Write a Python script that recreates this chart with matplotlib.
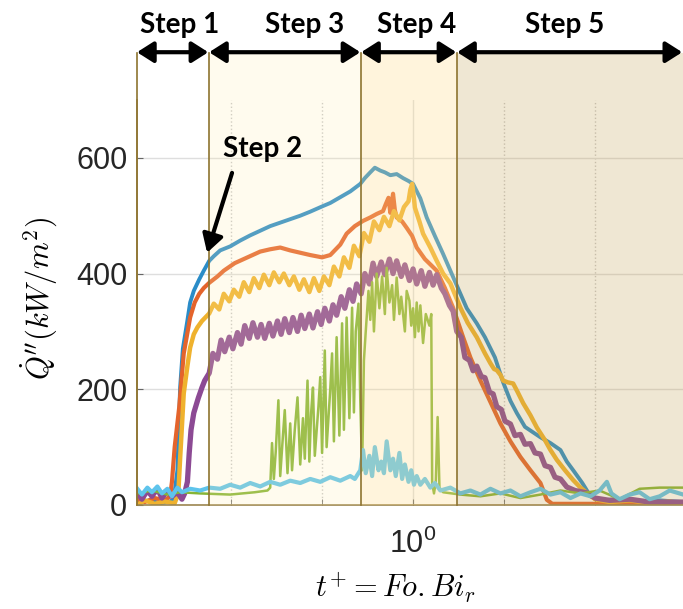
# Heat flux vs dimensionless time, with step regions
import numpy as np
import matplotlib
matplotlib.use("Agg")
import matplotlib.pyplot as plt
from matplotlib.ticker import FixedLocator, NullFormatter

plt.rcParams['font.family'] = ['Liberation Sans', 'DejaVu Sans']
plt.rcParams['mathtext.fontset'] = 'cm'

# ----- data: (log10 t+, Q'' in kW/m2) -----
blue = [(-0.303, 5), (-0.289, 8), (-0.278, 3), (-0.267, 6), (-0.263, 10), (-0.259, 60),
        (-0.256, 203), (-0.253, 270), (-0.248, 319), (-0.245, 350), (-0.241, 370),
        (-0.235, 390), (-0.230, 405), (-0.224, 422), (-0.219, 430), (-0.212, 440),
        (-0.201, 447), (-0.190, 457), (-0.179, 466), (-0.168, 474), (-0.157, 482),
        (-0.146, 488), (-0.135, 494), (-0.124, 500), (-0.113, 507), (-0.100, 516),
        (-0.091, 522), (-0.080, 532), (-0.069, 542), (-0.058, 555), (-0.053, 565),
        (-0.047, 575), (-0.042, 583), (-0.036, 578), (-0.031, 575), (-0.025, 570),
        (-0.018, 572), (-0.011, 565), (-0.005, 560), (0.000, 555), (0.008, 530),
        (0.015, 497), (0.024, 465), (0.033, 434), (0.041, 405), (0.049, 376),
        (0.059, 340), (0.070, 314), (0.079, 290), (0.090, 255), (0.099, 212),
        (0.107, 180), (0.114, 159), (0.123, 135), (0.140, 117), (0.151, 107),
        (0.162, 95), (0.169, 75), (0.176, 60), (0.186, 38), (0.195, 15), (0.205, 8),
        (0.227, 10), (0.249, 5), (0.271, 8), (0.297, 5)]

orange = [(-0.303, 10), (-0.295, 5), (-0.284, 12), (-0.273, 8), (-0.267, 15), (-0.265, 40),
          (-0.262, 100), (-0.257, 169), (-0.252, 262), (-0.245, 324), (-0.240, 350),
          (-0.235, 365), (-0.230, 375), (-0.224, 384), (-0.215, 395), (-0.208, 405),
          (-0.196, 418), (-0.182, 428), (-0.168, 438), (-0.157, 442), (-0.146, 445),
          (-0.135, 440), (-0.124, 436), (-0.113, 432), (-0.100, 428), (-0.091, 432),
          (-0.080, 450), (-0.073, 469), (-0.064, 482), (-0.055, 491), (-0.047, 497),
          (-0.040, 503), (-0.033, 508), (-0.030, 520), (-0.027, 531), (-0.025, 505),
          (-0.022, 538), (-0.020, 510), (-0.018, 497), (-0.012, 490), (-0.007, 479),
          (-0.001, 465), (0.004, 445), (0.013, 425), (0.026, 405), (0.035, 375),
          (0.044, 341), (0.055, 290), (0.063, 255), (0.074, 215), (0.085, 178),
          (0.096, 141), (0.107, 110), (0.118, 83), (0.129, 60), (0.140, 38),
          (0.147, 9), (0.153, 2), (0.205, 2), (0.297, 2)]

yellow = [(-0.303, 0), (-0.295, 8), (-0.284, 2), (-0.273, 6), (-0.262, 3), (-0.258, 20),
          (-0.256, 80), (-0.252, 193), (-0.248, 240), (-0.245, 272), (-0.241, 295),
          (-0.237, 307), (-0.232, 318), (-0.224, 331), (-0.219, 348), (-0.213, 338),
          (-0.208, 365), (-0.202, 352), (-0.197, 372), (-0.191, 360), (-0.186, 385),
          (-0.180, 368), (-0.175, 392), (-0.169, 375), (-0.164, 398), (-0.158, 380),
          (-0.153, 402), (-0.147, 385), (-0.142, 400), (-0.136, 380), (-0.131, 395),
          (-0.125, 372), (-0.120, 390), (-0.114, 368), (-0.109, 392), (-0.103, 370),
          (-0.098, 395), (-0.092, 380), (-0.087, 412), (-0.081, 395), (-0.076, 428),
          (-0.070, 410), (-0.065, 448), (-0.059, 430), (-0.054, 470), (-0.048, 455),
          (-0.043, 490), (-0.037, 475), (-0.032, 498), (-0.026, 482), (-0.021, 508),
          (-0.015, 492), (-0.010, 515), (-0.005, 525), (-0.003, 545), (-0.001, 555),
          (0.001, 530), (0.002, 514), (0.007, 490), (0.011, 469), (0.019, 445),
          (0.026, 422), (0.033, 400), (0.041, 383), (0.052, 341), (0.060, 315),
          (0.070, 290), (0.079, 262), (0.085, 245), (0.089, 235), (0.092, 233),
          (0.096, 225), (0.099, 215), (0.104, 212), (0.110, 210), (0.115, 195),
          (0.121, 176), (0.129, 155), (0.136, 134), (0.145, 112), (0.151, 95),
          (0.158, 78), (0.167, 60), (0.176, 43), (0.184, 30), (0.191, 21), (0.200, 10),
          (0.216, 5), (0.238, 8), (0.260, 3), (0.282, 6), (0.297, 2)]

purple = [(-0.303, 22), (-0.298, 10), (-0.292, 25), (-0.287, 15), (-0.281, 28), (-0.276, 12),
          (-0.270, 25), (-0.265, 15), (-0.259, 22), (-0.254, 10), (-0.251, 20), (-0.248, 40),
          (-0.246, 90), (-0.244, 130), (-0.241, 159), (-0.236, 185), (-0.232, 203),
          (-0.229, 215), (-0.224, 228), (-0.220, 262), (-0.215, 252), (-0.211, 285),
          (-0.207, 265), (-0.202, 290), (-0.198, 270), (-0.193, 298), (-0.189, 278),
          (-0.185, 310), (-0.180, 288), (-0.176, 315), (-0.171, 290), (-0.167, 312),
          (-0.163, 288), (-0.158, 314), (-0.154, 292), (-0.149, 318), (-0.145, 295),
          (-0.141, 322), (-0.136, 298), (-0.132, 324), (-0.127, 300), (-0.123, 328),
          (-0.119, 305), (-0.114, 330), (-0.110, 306), (-0.105, 334), (-0.101, 312),
          (-0.097, 340), (-0.092, 318), (-0.088, 346), (-0.084, 328), (-0.079, 360),
          (-0.075, 340), (-0.070, 372), (-0.066, 352), (-0.062, 382), (-0.057, 365),
          (-0.053, 400), (-0.048, 382), (-0.044, 418), (-0.040, 395), (-0.035, 420),
          (-0.031, 398), (-0.026, 425), (-0.022, 400), (-0.018, 422), (-0.013, 395),
          (-0.009, 415), (-0.004, 388), (0.000, 408), (0.004, 382), (0.009, 405),
          (0.013, 378), (0.018, 402), (0.022, 380), (0.026, 398), (0.031, 375),
          (0.035, 365), (0.040, 345), (0.044, 335), (0.048, 300), (0.053, 290),
          (0.057, 255), (0.062, 250), (0.066, 232), (0.070, 240), (0.075, 222),
          (0.079, 220), (0.084, 195), (0.088, 192), (0.092, 170), (0.097, 165),
          (0.101, 145), (0.107, 140), (0.112, 120), (0.118, 122), (0.123, 105),
          (0.129, 106), (0.134, 90), (0.140, 88), (0.145, 68), (0.151, 65), (0.156, 48),
          (0.162, 45), (0.169, 31), (0.178, 25), (0.191, 21), (0.200, 12), (0.216, 8),
          (0.238, 10), (0.260, 5), (0.297, 5)]

green = [(-0.303, 20), (-0.287, 25), (-0.270, 18), (-0.256, 22), (-0.234, 20), (-0.201, 18),
         (-0.174, 22), (-0.160, 25), (-0.157, 30), (-0.155, 107), (-0.153, 45), (-0.151, 90),
         (-0.148, 181), (-0.146, 50), (-0.143, 120), (-0.141, 164), (-0.138, 55),
         (-0.135, 141), (-0.133, 60), (-0.130, 130), (-0.127, 186), (-0.124, 70),
         (-0.121, 150), (-0.119, 80), (-0.116, 215), (-0.114, 75), (-0.112, 160),
         (-0.110, 203), (-0.108, 85), (-0.104, 170), (-0.102, 221), (-0.100, 90),
         (-0.097, 267), (-0.095, 100), (-0.091, 200), (-0.089, 262), (-0.087, 110),
         (-0.084, 290), (-0.081, 120), (-0.078, 314), (-0.076, 130), (-0.073, 324),
         (-0.070, 150), (-0.067, 341), (-0.065, 160), (-0.063, 300), (-0.060, 348),
         (-0.058, 180), (-0.056, 60), (-0.054, 250), (-0.052, 300), (-0.049, 370),
         (-0.047, 320), (-0.045, 385), (-0.043, 300), (-0.040, 400), (-0.037, 340),
         (-0.034, 395), (-0.031, 330), (-0.029, 410), (-0.026, 350), (-0.023, 380),
         (-0.021, 320), (-0.018, 393), (-0.015, 330), (-0.013, 360), (-0.009, 300),
         (-0.007, 370), (-0.004, 353), (-0.002, 310), (0.000, 340), (0.002, 290),
         (0.004, 350), (0.006, 300), (0.008, 345), (0.011, 280), (0.014, 330),
         (0.018, 310), (0.020, 330), (0.021, 38), (0.023, 20), (0.025, 40), (0.027, 152),
         (0.029, 30), (0.033, 22), (0.052, 18), (0.074, 15), (0.096, 20), (0.118, 12),
         (0.140, 18), (0.162, 25), (0.184, 20), (0.205, 25), (0.227, 10), (0.249, 28),
         (0.271, 30), (0.297, 30)]

cyan = [(-0.303, 28), (-0.298, 18), (-0.292, 30), (-0.287, 22), (-0.281, 32), (-0.276, 20),
        (-0.270, 28), (-0.265, 15), (-0.259, 30), (-0.254, 22), (-0.245, 28), (-0.234, 25),
        (-0.224, 30), (-0.212, 28), (-0.201, 35), (-0.190, 30), (-0.179, 38), (-0.168, 32),
        (-0.157, 40), (-0.146, 35), (-0.135, 42), (-0.124, 38), (-0.113, 45), (-0.102, 40),
        (-0.091, 48), (-0.080, 42), (-0.069, 50), (-0.064, 45), (-0.058, 60), (-0.055, 95),
        (-0.052, 55), (-0.048, 85), (-0.045, 50), (-0.042, 100), (-0.038, 60), (-0.035, 75),
        (-0.032, 55), (-0.029, 110), (-0.025, 60), (-0.022, 80), (-0.019, 50), (-0.015, 90),
        (-0.012, 45), (-0.009, 70), (-0.005, 40), (-0.002, 60), (0.001, 35), (0.004, 50),
        (0.008, 35), (0.013, 45), (0.019, 30), (0.024, 38), (0.030, 25), (0.041, 30),
        (0.052, 20), (0.063, 25), (0.074, 18), (0.085, 28), (0.096, 20), (0.107, 25),
        (0.118, 15), (0.129, 22), (0.140, 28), (0.151, 18), (0.162, 22), (0.173, 12),
        (0.184, 20), (0.195, 15), (0.205, 25), (0.213, 40), (0.218, 20), (0.227, 10),
        (0.238, 18), (0.249, 22), (0.260, 10), (0.271, 15), (0.282, 25), (0.297, 18)]

series = [blue, orange, yellow, purple, green, cyan]
colors = ['#2A8CC8', '#E4642C', '#EFB22E', '#8C4A94', '#86B536', '#5EC4EC']
widths = [2.8, 3.0, 3.2, 3.8, 1.8, 3.0]

# step regions (t+ boundaries), from the picture
bounds = [0.4973, 0.5968, 0.8769, 1.118, 1.98]
step_names = ['Step 1', 'Step 3', 'Step 4', 'Step 5']
step_text_t = [0.5546, 0.7606, 1.010, 1.469]
shade_colors = [None, '#FFEBAA', '#FFDC8C', '#C3A050']
shade_alpha = [0, 0.2, 0.3, 0.25]

fig = plt.figure(figsize=(6.83, 6.09), dpi=100)
ax = fig.add_axes([0.2006, 0.1708, 0.7994, 0.665])
ax.set_xscale('log')

for s, c, w in zip(series, colors, widths):
    lt, q = zip(*s)
    ax.plot(10 ** np.array(lt), q, color=c, lw=w, zorder=2)

ax.set_xlim(bounds[0], bounds[-1])
ax.set_ylim(0, 700)
ax.set_yticks([0, 200, 400, 600])
ax.xaxis.set_major_locator(FixedLocator([1.0]))
ax.xaxis.set_minor_locator(FixedLocator(10 ** np.array([-0.2, -0.1, 0.1, 0.2])))
ax.xaxis.set_minor_formatter(NullFormatter())

ax.grid(True, which='major', color='#DEDEDE', lw=1)
ax.xaxis.grid(True, which='minor', color='#C8C8C8', lw=1, ls=':')
ax.set_axisbelow(True)
ax.tick_params(which='both', direction='in', length=4, color='#666666',
               labelsize=22, labelcolor='#262626')
ax.tick_params(axis='y', pad=7)
ax.tick_params(axis='x', pad=17)
for side in ['top', 'right']:
    ax.spines[side].set_visible(False)
for side in ['left', 'bottom']:
    ax.spines[side].set_color('#9C8650')
    ax.spines[side].set_linewidth(1.2)

xt = ax.get_xaxis_transform()
top = 1.116
# shaded overlays on top of the curves
for lo, hi, c, a in zip(bounds[:-1], bounds[1:], shade_colors, shade_alpha):
    if c is not None:
        ax.axvspan(lo, hi, ymin=0, ymax=top, color=c, alpha=a, lw=0,
                   zorder=3, clip_on=False)
for b in bounds[:-1]:
    ax.plot([b, b], [0, top], transform=xt, color='#8E7430', lw=1.2,
            zorder=4, clip_on=False)

# double arrows + step labels
for lo, hi, name, tx in zip(bounds[:-1], bounds[1:], step_names, step_text_t):
    ax.annotate('', xy=(hi * 0.998, 1.118), xytext=(lo, 1.118), xycoords=xt,
                arrowprops=dict(arrowstyle='<|-|>,head_length=0.55,head_width=0.35',
                                lw=3, color='black', shrinkA=0, shrinkB=0,
                                mutation_scale=18),
                annotation_clip=False, zorder=6)
    ax.text(tx, 1.185, name, transform=xt, ha='center', va='center',
            fontsize=20, fontweight='bold', family=['Lato', 'DejaVu Sans'])

ax.annotate('', xy=(0.5938, 436), xytext=(0.6325, 574),
            arrowprops=dict(arrowstyle='-|>,head_length=0.6,head_width=0.35', lw=3,
                            color='black', shrinkA=0, shrinkB=0, mutation_scale=18),
            zorder=6)
ax.text(0.6841, 615, 'Step 2', ha='center', va='center', fontsize=20,
        fontweight='bold', family=['Lato', 'DejaVu Sans'], zorder=6)

ax.text(-0.178, 0.511, r"$\dot{Q}''(kW/m^2)$", transform=ax.transAxes, rotation=90,
        ha='center', va='center', fontsize=22)
ax.text(0.4725, -0.205, r"$t^{+}=Fo{.}Bi_r$", transform=ax.transAxes,
        ha='center', va='center', fontsize=22)

fig.savefig("out.png", dpi=100)
